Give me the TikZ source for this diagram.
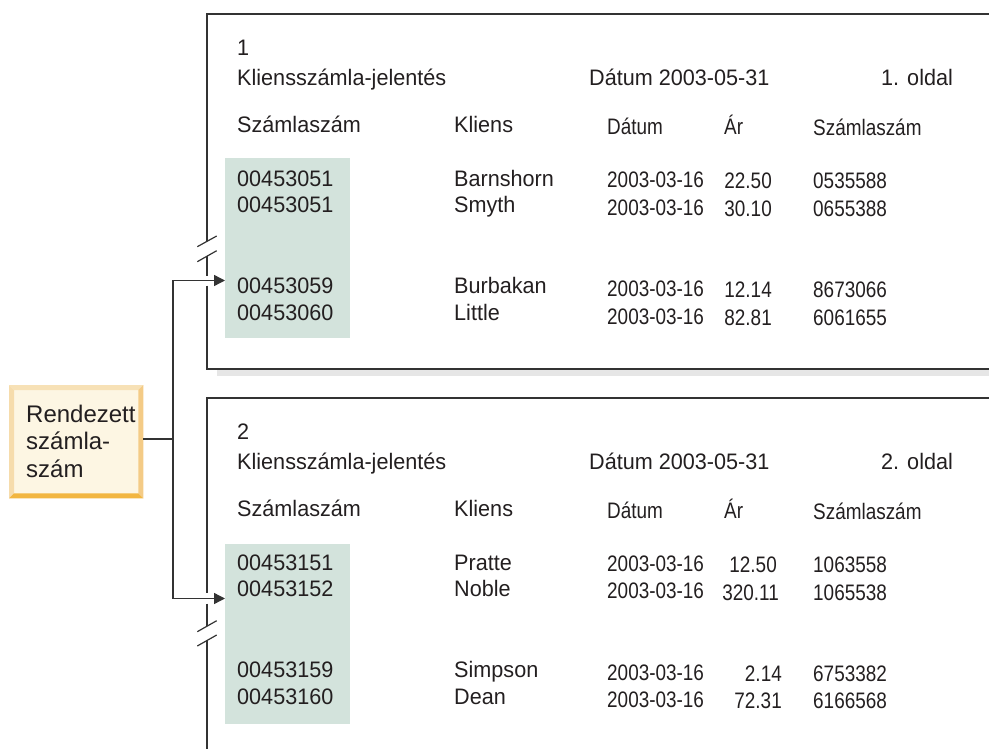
\documentclass[tikz,border=0pt]{standalone}
\usepackage{fontspec}
\setmainfont{Liberation Sans}
\newfontfamily\widefont[FakeStretch=0.965]{Liberation Sans}
\newfontfamily\narrowfont[FakeStretch=0.845]{Liberation Sans}
\usetikzlibrary{arrows.meta}
\definecolor{ink}{HTML}{231F20}
\definecolor{frame}{HTML}{333333}
\definecolor{hl}{HTML}{D3E3DC}
\definecolor{shadowc}{HTML}{E6E6E6}
\definecolor{boxin}{HTML}{FDF6E3}
\definecolor{bevtop}{HTML}{F7E1B6}
\definecolor{bevleft}{HTML}{F6DCAC}
\definecolor{bevright}{HTML}{F4CB86}
\definecolor{bevbot}{HTML}{F2B641}
\begin{document}
\begin{tikzpicture}[x=1pt,y=-1pt,
  pageline/.style={draw=frame, line width=1.4pt},
  slash/.style={draw=frame, line width=1.2pt},
  conn/.style={draw=frame, line width=1.4pt},
  arr/.style={conn, -{Triangle[length=11pt,width=11pt]}},
  txt/.style={anchor=base west, inner sep=0pt, text=ink, font=\fontsize{22.4}{27}\selectfont\widefont},
  ntxt/.style={txt, font=\fontsize{22.4}{27}\selectfont\narrowfont},
  ntxte/.style={ntxt, anchor=base east},
  hlbox/.style={fill=hl, draw=none, inner sep=0pt, anchor=north west, minimum width=125pt, minimum height=180pt}]
\useasboundingbox (0,0) rectangle (989,749);

% ---------- page 1 ----------
\fill[shadowc] (217,370) rectangle (992,376);
\draw[pageline] (995,14) -- (207,14) -- (207,241.3);
\draw[pageline] (207,256.2) -- (207,275.5);
\draw[pageline] (207,285.5) -- (207,369) -- (995,369);
\draw[slash] (197.3,246.7) -- (216.7,236);
\draw[slash] (197.3,261.7) -- (216.7,250.7);
\node[hlbox] (hl1) at (225,158) {};

\node[txt] (p1num) at (237,56) {1};
\node[txt] (p1title) at (237,86) {Kliensszámla-jelentés};
\node[txt] (p1date) at (589,86) {Dátum 2003-05-31};
\node[txt] (p1page) at (881,86) {1. oldal};
\node[txt] (p1h1) at (237,133) {Számlaszám};
\node[txt] (p1h2) at (454,133) {Kliens};
\node[ntxt] (p1h3) at (607,135) {Dátum};
\node[ntxt] (p1h4) at (724,135) {Ár};
\node[ntxt] (p1h5) at (813,136) {Számlaszám};
\foreach \i/\y/\yd/\ya/\num/\name/\ar/\arx/\acc in {
  1/186.5/187.5/189/00453051/Barnshorn/22.50/772/0535588,
  2/212.5/215/216.5/00453051/Smyth/30.10/772/0655388,
  3/294/296.5/297.5/00453059/Burbakan/12.14/772/8673066,
  4/320.5/324/325/00453060/Little/82.81/772/6061655}{
  \node[txt] (p1n\i) at (237,\y) {\num};
  \node[txt] (p1k\i) at (454,\y) {\name};
  \node[ntxt] (p1d\i) at (607,\yd) {2003-03-16};
  \node[ntxte] (p1a\i) at (\arx,\ya) {\ar};
  \node[ntxt] (p1s\i) at (813,\ya) {\acc};
}

% ---------- page 2 ----------
\draw[pageline] (995,398) -- (207,398) -- (207,593);
\draw[pageline] (207,603.5) -- (207,626.2);
\draw[pageline] (207,640.5) -- (207,752);
\draw[slash] (197.3,631.7) -- (216.7,620.7);
\draw[slash] (197.3,646) -- (216.7,635);
\node[hlbox] (hl2) at (225,544) {};

\node[txt] (p2num) at (237,439.5) {2};
\node[txt] (p2title) at (237,469.5) {Kliensszámla-jelentés};
\node[txt] (p2date) at (589,469.5) {Dátum 2003-05-31};
\node[txt] (p2page) at (881,469.5) {2. oldal};
\node[txt] (p2h1) at (237,516.5) {Számlaszám};
\node[txt] (p2h2) at (454,516.5) {Kliens};
\node[ntxt] (p2h3) at (607,518.5) {Dátum};
\node[ntxt] (p2h4) at (724,518.5) {Ár};
\node[ntxt] (p2h5) at (813,519.5) {Számlaszám};
\foreach \i/\y/\yd/\ya/\num/\name/\ar/\arx/\acc in {
  1/570/571/572.5/00453151/Pratte/12.50/777/1063558,
  2/596/598.5/600/00453152/Noble/320.11/779/1065538,
  3/677.5/680/681/00453159/Simpson/2.14/782/6753382,
  4/704/707.5/708.5/00453160/Dean/72.31/782/6166568}{
  \node[txt] (p2n\i) at (237,\y) {\num};
  \node[txt] (p2k\i) at (454,\y) {\name};
  \node[ntxt] (p2d\i) at (607,\yd) {2003-03-16};
  \node[ntxte] (p2a\i) at (\arx,\ya) {\ar};
  \node[ntxt] (p2s\i) at (813,\ya) {\acc};
}

% ---------- sort key box ----------
\node[fill=boxin, draw=none, inner sep=0pt, anchor=north west,
      minimum width=134pt, minimum height=113pt] (box) at (9,385) {};
\fill[bevtop] (box.north west) -- (box.north east) -- ([xshift=-5pt,yshift=-5pt]box.north east) -- ([xshift=5pt,yshift=-5pt]box.north west) -- cycle;
\fill[bevleft] (box.north west) -- ([xshift=5pt,yshift=-5pt]box.north west) -- ([xshift=5pt,yshift=5pt]box.south west) -- (box.south west) -- cycle;
\fill[bevright] (box.north east) -- ([xshift=-5pt,yshift=-5pt]box.north east) -- ([xshift=-5pt,yshift=5pt]box.south east) -- (box.south east) -- cycle;
\fill[bevbot] (box.south west) -- ([xshift=5pt,yshift=5pt]box.south west) -- ([xshift=-5pt,yshift=5pt]box.south east) -- (box.south east) -- cycle;
\node[anchor=north west, align=left, inner sep=0pt, text=ink,
      font=\fontsize{24}{27.5}\selectfont] (boxtext) at (26,404.5) {Rendezett\\számla-\\szám};

% ---------- connectors ----------
\coordinate (j) at (173,439);
\coordinate (a1) at (225,280.5);
\coordinate (a2) at (225,598.5);
\draw[conn] (box.east |- j) -- (j);
\draw[arr] (j) |- (a1);
\draw[arr] (j) |- (a2);
\end{tikzpicture}
\end{document}
